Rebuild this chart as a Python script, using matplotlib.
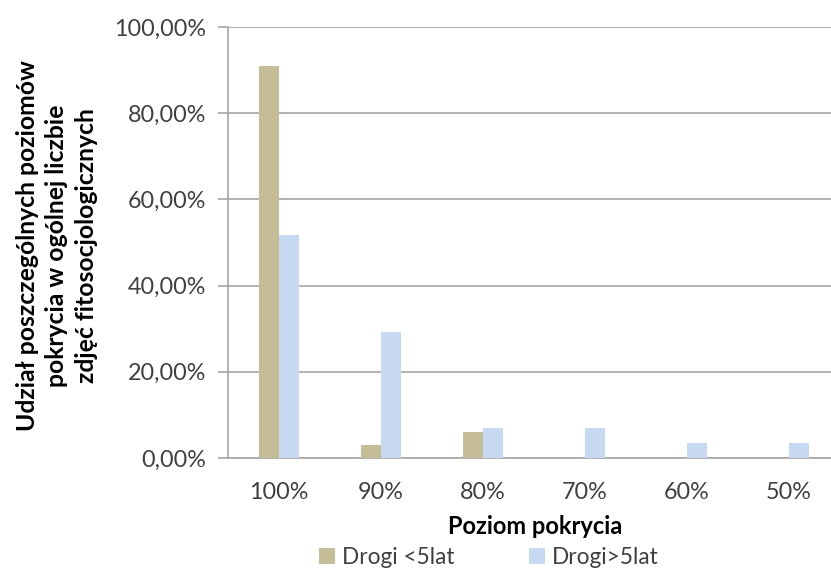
import matplotlib.pyplot as plt
import numpy as np

categories = ["100%", "90%", "80%", "70%", "60%", "50%"]
drogi_mlode = [90.91, 3.03, 6.06, 0.0, 0.0, 0.0]
drogi_stare = [51.72, 29.31, 6.90, 6.90, 3.45, 3.45]
series_names = ["Drogi <5lat", "Drogi>5lat"]
y_ticks = [0, 20, 40, 60, 80, 100]
y_tick_labels = ["0,00%", "20,00%", "40,00%", "60,00%", "80,00%", "100,00%"]

plt.rcParams['font.family'] = ['Lato', 'DejaVu Sans']

W, H = 831, 572
fig = plt.figure(figsize=(W / 100, H / 100), dpi=100)
ax = fig.add_axes([228 / W, 1 - 458 / H, 612 / W, (458 - 27) / H])

x = np.arange(len(categories))
bw = 0.2
ax.bar(x - bw / 2, drogi_mlode, bw, color="#C4BD97", label=series_names[0], zorder=3)
ax.bar(x + bw / 2, drogi_stare, bw, color="#C6D9F1", label=series_names[1], zorder=3)

ax.set_xlim(-0.5, len(categories) - 0.5)
ax.set_ylim(0, 100)
ax.set_yticks(y_ticks)
ax.set_yticklabels(y_tick_labels, fontsize=16.8, color="#404040")
ax.set_xticks(x)
ax.set_xticklabels(categories, fontsize=16.8, color="#404040")
ax.tick_params(axis="x", length=0, pad=17)
ax.tick_params(axis="y", length=7, width=1.2, color="#A6A6A6", pad=9)

ax.grid(axis="y", color="#A6A6A6", linewidth=1.2, zorder=0)
for side in ["top", "right"]:
    ax.spines[side].set_visible(False)
ax.spines["left"].set_color("#A6A6A6")
ax.spines["left"].set_linewidth(1.2)
ax.spines["bottom"].set_color("#A6A6A6")
ax.spines["bottom"].set_linewidth(1.2)

fig.text(535 / W, 1 - 527 / H, "Poziom pokrycia", fontsize=17, fontweight="bold",
         ha="center", va="center")
fig.text(57 / W, 1 - 246 / H,
         "Udział poszczególnych poziomów\npokrycia w ogólnej liczbie\nzdjęć fitosocjologicznych",
         fontsize=17.8, fontweight="bold", rotation=90, ha="center", va="center",
         linespacing=1.35, multialignment="center")

fig.legend(loc="center", bbox_to_anchor=(489 / W, 1 - 557 / H), ncol=2, frameon=False,
           fontsize=16.3, handlelength=0.7, handleheight=0.7, handletextpad=0.3,
           columnspacing=3.3, labelcolor="#404040")

fig.savefig("out.png", dpi=100)
